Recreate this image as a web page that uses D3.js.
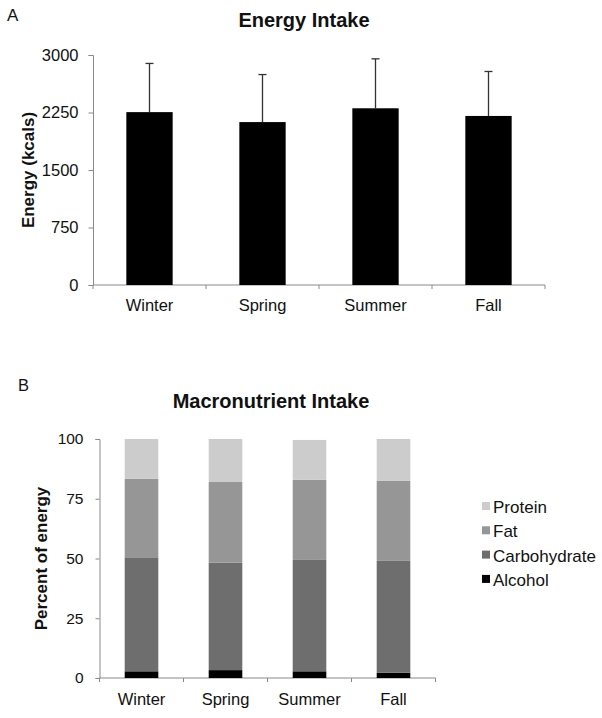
<!DOCTYPE html>
<html lang="en">
<head>
    <meta charset="utf-8">
    <title>Energy and Macronutrient Intake</title>
    <script src="https://cdnjs.cloudflare.com/ajax/libs/d3/7.8.5/d3.min.js"></script>
    <style>
        body { margin: 0; background: #fff; }
        svg text { font-family: "Liberation Sans", Arial, sans-serif; fill: #111; }
        .axis path, .axis line { stroke: #8a8a8a; }
    </style>
</head>
<body>
<div id="viz"></div>
<script>
    // data
    var seasons = ["Winter", "Spring", "Summer", "Fall"];
    var energyMean = [2255, 2125, 2305, 2205];
    var energySD = [635, 620, 645, 580];
    var energyTicks = [0, 750, 1500, 2250, 3000];

    var nutrients = ["Alcohol", "Carbohydrate", "Fat", "Protein"];
    var alcohol = [2.8, 3.3, 2.8, 2.2];
    var carbohydrate = [47.7, 45.0, 46.6, 46.8];
    var fat = [32.8, 33.7, 33.5, 33.6];
    var protein = [16.7, 18.0, 16.7, 17.4];
    var percentTicks = [0, 25, 50, 75, 100];
    var nutrientColors = ["#000000", "#6e6e6e", "#969696", "#cccccc"];

    var svg = d3.select("#viz").append("svg")
        .attr("width", 602)
        .attr("height", 718);

    // ---------- panel A ----------
    var a = { left: 93, right: 545, top: 55, bottom: 285 };

    var xA = d3.scaleBand().domain(seasons).range([a.left, a.right]).paddingInner(0.59).paddingOuter(0.295);
    var bandA = d3.scaleBand().domain(seasons).range([a.left, a.right]);
    var yA = d3.scaleLinear().domain([0, 3000]).range([a.bottom, a.top]);

    svg.append("text").attr("x", 7).attr("y", 21).style("font-size", "17px").text("A");
    svg.append("text").attr("x", 304).attr("y", 27).attr("text-anchor", "middle")
        .style("font-size", "20px").style("font-weight", "bold").text("Energy Intake");

    svg.append("g").attr("class", "axis")
        .attr("transform", "translate(" + a.left + ",0)")
        .call(d3.axisLeft(yA).tickValues(energyTicks).tickSize(4.5).tickPadding(10).tickFormat(d3.format("d")))
        .call(g => g.selectAll("text").style("font-size", "16.5px").style("fill", "#111"));

    var xAxisA = svg.append("g").attr("class", "axis")
        .attr("transform", "translate(0," + a.bottom + ")");
    xAxisA.append("line").attr("x1", a.left).attr("x2", a.right).attr("stroke", "#8a8a8a");
    xAxisA.selectAll("line.tk").data(d3.range(seasons.length + 1)).enter().append("line")
        .attr("class", "tk")
        .attr("x1", i => a.left + i * bandA.step()).attr("x2", i => a.left + i * bandA.step())
        .attr("y1", 0).attr("y2", 4).attr("stroke", "#8a8a8a");
    xAxisA.selectAll("text").data(seasons).enter().append("text")
        .attr("x", d => bandA(d) + bandA.bandwidth() / 2).attr("y", 26)
        .attr("text-anchor", "middle").style("font-size", "16.5px").text(d => d);

    svg.append("text")
        .attr("transform", "translate(34," + ((a.top + a.bottom) / 2) + ") rotate(-90)")
        .attr("text-anchor", "middle").style("font-size", "17px").style("font-weight", "bold")
        .text("Energy (kcals)");

    // error bars (upper only)
    var err = svg.append("g");
    seasons.forEach(function (s, i) {
        var cx = xA(s) + xA.bandwidth() / 2;
        err.append("line").attr("x1", cx).attr("x2", cx)
            .attr("y1", yA(energyMean[i])).attr("y2", yA(energyMean[i] + energySD[i]))
            .attr("stroke", "#333").attr("stroke-width", 1.3);
        err.append("line").attr("x1", cx - 4).attr("x2", cx + 4)
            .attr("y1", yA(energyMean[i] + energySD[i])).attr("y2", yA(energyMean[i] + energySD[i]))
            .attr("stroke", "#333").attr("stroke-width", 1.3);
    });

    svg.append("g").selectAll("rect").data(seasons).enter().append("rect")
        .attr("x", d => xA(d))
        .attr("width", xA.bandwidth())
        .attr("y", (d, i) => yA(energyMean[i]))
        .attr("height", (d, i) => a.bottom - yA(energyMean[i]))
        .attr("fill", "#000");

    // ---------- panel B ----------
    var b = { left: 99.5, right: 435.5, top: 439, bottom: 678 };

    var xB = d3.scaleBand().domain(seasons).range([b.left, b.right]).paddingInner(0.6).paddingOuter(0.3);
    var bandB = d3.scaleBand().domain(seasons).range([b.left, b.right]);
    var yB = d3.scaleLinear().domain([0, 100]).range([b.bottom, b.top]);

    svg.append("text").attr("x", 18).attr("y", 391).style("font-size", "16.5px").text("B");
    svg.append("text").attr("x", 271).attr("y", 408).attr("text-anchor", "middle")
        .style("font-size", "20px").style("font-weight", "bold").text("Macronutrient Intake");

    svg.append("g").attr("class", "axis")
        .attr("transform", "translate(" + b.left + ",0)")
        .call(d3.axisLeft(yB).tickValues(percentTicks).tickSize(4).tickPadding(12))
        .call(g => g.selectAll("text").style("font-size", "15.5px").style("fill", "#111"));

    var xAxisB = svg.append("g").attr("class", "axis")
        .attr("transform", "translate(0," + b.bottom + ")");
    xAxisB.append("line").attr("x1", b.left).attr("x2", b.right).attr("stroke", "#8a8a8a");
    xAxisB.selectAll("line.tk").data(d3.range(seasons.length + 1)).enter().append("line")
        .attr("class", "tk")
        .attr("x1", i => b.left + i * bandB.step()).attr("x2", i => b.left + i * bandB.step())
        .attr("y1", 0).attr("y2", 4).attr("stroke", "#8a8a8a");
    xAxisB.selectAll("text").data(seasons).enter().append("text")
        .attr("x", d => bandB(d) + bandB.bandwidth() / 2).attr("y", 27)
        .attr("text-anchor", "middle").style("font-size", "16.5px").text(d => d);

    svg.append("text")
        .attr("transform", "translate(47," + ((b.top + b.bottom) / 2) + ") rotate(-90)")
        .attr("text-anchor", "middle").style("font-size", "17px").style("font-weight", "bold")
        .text("Percent of energy");

    var table = seasons.map(function (s, i) {
        return { season: s, Alcohol: alcohol[i], Carbohydrate: carbohydrate[i], Fat: fat[i], Protein: protein[i] };
    });
    var stacked = d3.stack().keys(nutrients)(table);
    var color = d3.scaleOrdinal().domain(nutrients).range(nutrientColors);

    svg.append("g").selectAll("g").data(stacked).enter().append("g")
        .attr("fill", d => color(d.key))
        .selectAll("rect").data(d => d).enter().append("rect")
        .attr("x", d => xB(d.data.season))
        .attr("width", xB.bandwidth())
        .attr("y", d => yB(d[1]))
        .attr("height", d => yB(d[0]) - yB(d[1]));

    // legend, top entry is Protein
    var legendOrder = nutrients.slice().reverse();
    var legend = svg.append("g").attr("transform", "translate(482,502)");
    legend.selectAll("rect").data(legendOrder).enter().append("rect")
        .attr("x", 0).attr("y", (d, i) => i * 24.3)
        .attr("width", 8).attr("height", 8)
        .attr("fill", d => color(d));
    legend.selectAll("text").data(legendOrder).enter().append("text")
        .attr("x", 11).attr("y", (d, i) => i * 24.3 + 11)
        .style("font-size", "17px").text(d => d);
</script>
</body>
</html>
